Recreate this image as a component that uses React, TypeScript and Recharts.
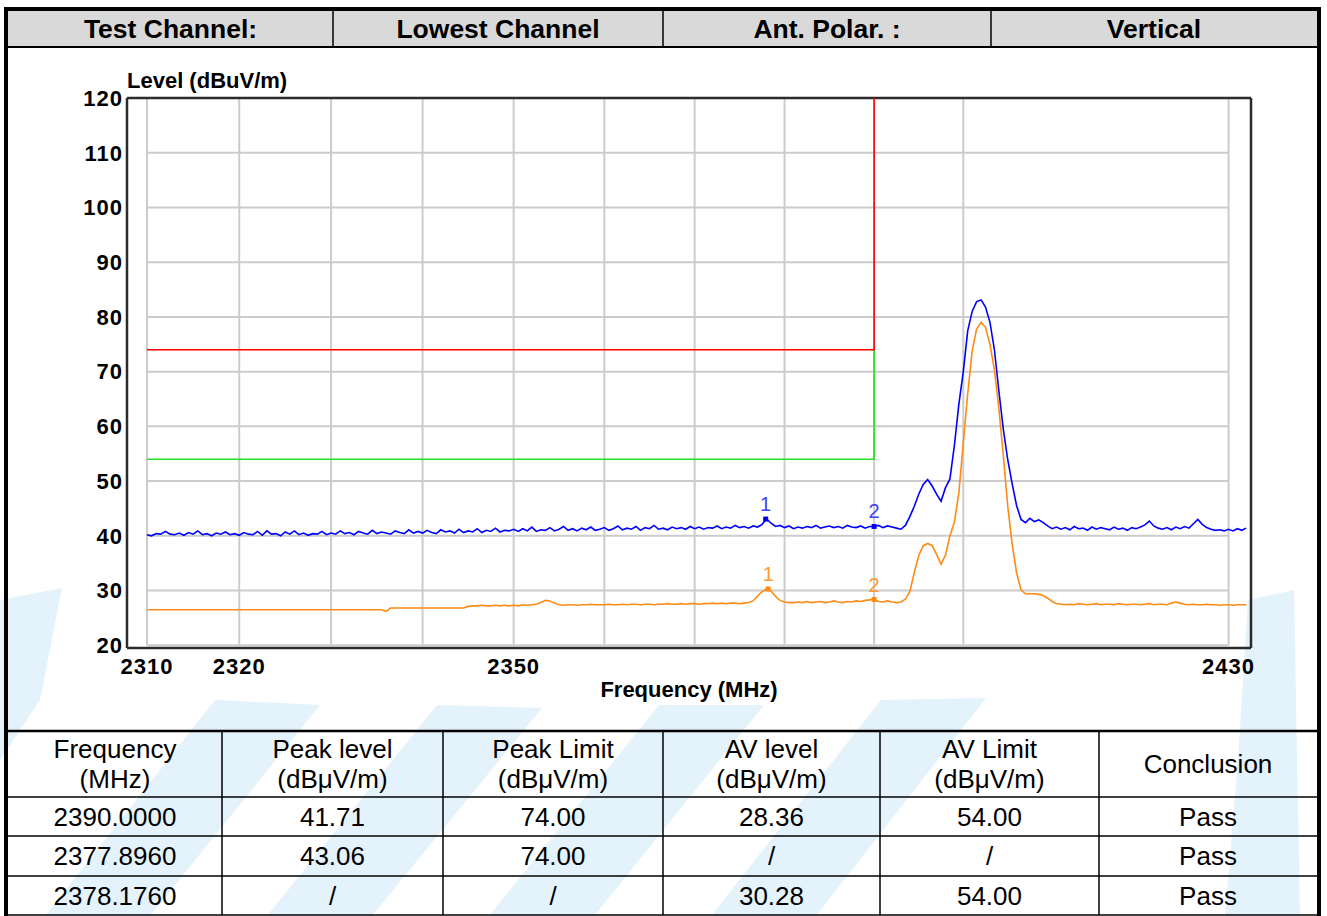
import React from 'react';
import { ComposedChart, Line, Scatter, XAxis, YAxis, ReferenceLine } from 'recharts';

// sweep grid of the receiver (MHz)
const SWEEP_START = 2310;
const SWEEP_STEP = 0.5;

// peak detector trace, dBuV/m, one value per sweep step (2310 .. 2432)
const peakTrace = [
  40.2, 40.0, 40.4, 40.3, 40.8, 40.3, 40.2, 40.5, 40.1, 40.6, 40.3, 40.9, 40.2, 40.4, 40.0, 40.5, 40.3, 40.7, 40.2, 40.4,
  40.1, 40.6, 40.3, 40.2, 40.8, 40.1, 40.9, 40.3, 40.4, 40.0, 40.7, 40.3, 40.9, 40.2, 40.5, 40.1, 40.4, 40.3, 40.8, 40.2,
  40.5, 40.3, 40.9, 40.4, 40.6, 40.2, 40.8, 40.5, 40.3, 41.0, 40.4, 40.7, 40.5, 40.3, 40.9, 40.6, 40.4, 41.1, 40.5, 40.8,
  40.5, 41.0, 40.6, 40.4, 41.1, 40.7, 40.9, 40.5, 41.2, 40.6, 40.9, 40.7, 41.3, 40.6, 41.0, 40.8, 41.4, 40.7, 41.0, 40.9,
  41.2, 40.8, 41.3, 40.9, 41.6, 40.8, 41.1, 41.0, 41.5, 40.9, 41.2, 41.7, 41.0, 41.3, 40.9, 41.4, 41.1, 41.6, 41.0, 41.2,
  41.5, 41.0, 41.3, 41.8, 41.1, 41.4, 41.2, 41.7, 41.0, 41.5, 41.3, 41.9, 41.2, 41.4, 41.1, 41.6, 41.3, 41.5, 41.2, 41.7,
  41.3, 41.6, 41.2, 41.5, 41.4, 41.8, 41.3, 41.6, 41.4, 41.9, 41.5, 41.7, 41.4, 41.8, 41.6, 42.1, 43.1, 42.3, 41.7, 41.9,
  41.5, 41.8, 41.3, 41.6, 41.4, 41.7, 41.5, 41.9, 41.4, 41.6, 41.8, 41.5, 41.7, 41.4, 41.9, 41.6, 41.5, 41.8, 41.4, 41.7,
  41.7, 41.9, 41.5, 41.8, 41.6, 41.4, 41.2, 41.9, 43.5, 45.4, 47.6, 49.4, 50.3, 49.1, 47.6, 46.3, 48.8, 50.4, 56.5, 64.0,
  70.0, 77.5, 81.0, 82.8, 83.1, 81.8, 79.0, 74.0, 66.5, 59.5, 53.9, 49.5, 45.5, 43.0, 42.4, 43.2, 42.6, 42.9, 42.4, 41.8,
  41.3, 41.6, 41.2, 41.5, 41.1, 41.7, 41.3, 41.4, 41.0, 41.6, 41.2, 41.5, 41.3, 41.1, 41.6, 41.2, 41.4, 41.0, 41.5, 41.3,
  41.6, 42.0, 42.7, 41.8, 41.4, 41.2, 41.5, 41.1, 41.6, 41.3, 41.7, 41.4, 42.2, 43.0, 42.1, 41.5, 41.2, 41.0, 41.1, 40.9,
  41.2, 40.9, 41.3, 41.0, 41.4,
];

// average detector trace, same grid
const avgTrace = [
  26.5, 26.5, 26.5, 26.5, 26.5, 26.5, 26.5, 26.5, 26.5, 26.5, 26.5, 26.5, 26.5, 26.5, 26.5, 26.5, 26.5, 26.5, 26.5, 26.5,
  26.5, 26.5, 26.5, 26.5, 26.5, 26.5, 26.5, 26.5, 26.5, 26.5, 26.5, 26.5, 26.5, 26.5, 26.5, 26.5, 26.5, 26.5, 26.5, 26.5,
  26.5, 26.5, 26.5, 26.5, 26.5, 26.5, 26.5, 26.5, 26.5, 26.5, 26.5, 26.5, 26.2, 26.8, 26.8, 26.8, 26.8, 26.8, 26.8, 26.8,
  26.8, 26.8, 26.8, 26.8, 26.8, 26.8, 26.8, 26.8, 26.8, 26.8, 27.1, 27.2, 27.2, 27.3, 27.2, 27.2, 27.3, 27.2, 27.3, 27.2,
  27.3, 27.2, 27.4, 27.3, 27.4, 27.5, 27.8, 28.2, 28.1, 27.7, 27.4, 27.3, 27.4, 27.4, 27.3, 27.4, 27.4, 27.5, 27.4, 27.4,
  27.4, 27.5, 27.4, 27.4, 27.5, 27.4, 27.5, 27.5, 27.4, 27.5, 27.5, 27.4, 27.5, 27.5, 27.6, 27.5, 27.5, 27.6, 27.5, 27.6,
  27.6, 27.5, 27.6, 27.6, 27.7, 27.6, 27.7, 27.6, 27.7, 27.7, 27.6, 27.7, 27.8, 28.1, 29.0, 29.8, 30.3, 29.9, 28.9, 28.2,
  27.9, 27.8, 27.8, 27.9, 27.8, 28.0, 27.8, 27.9, 28.0, 27.8, 27.9, 28.1, 27.9, 27.8, 28.0, 27.9, 28.1, 28.0, 28.2, 28.3,
  28.4, 28.0, 27.9, 28.1, 27.9, 27.8, 27.9, 28.4, 29.8, 33.3, 36.4, 38.2, 38.6, 38.2, 36.6, 34.8, 36.5, 40.0, 42.5, 47.8,
  57.0, 66.0, 73.8, 77.8, 79.0, 78.1, 75.0, 70.3, 63.3, 54.8, 45.4, 38.5, 33.2, 30.1, 29.4, 29.4, 29.4, 29.3, 29.1, 28.6,
  28.0, 27.6, 27.5, 27.4, 27.5, 27.4, 27.6, 27.5, 27.4, 27.5, 27.6, 27.4, 27.5, 27.5, 27.4, 27.6, 27.5, 27.4, 27.5, 27.5,
  27.4, 27.5, 27.6, 27.4, 27.5, 27.5, 27.4, 27.7, 27.9, 27.7, 27.5, 27.4, 27.5, 27.4, 27.4, 27.5, 27.4, 27.4, 27.3, 27.4,
  27.4, 27.3, 27.4, 27.4, 27.4,
];

// limits
const BAND_EDGE = 2390;
const PEAK_LIMIT = 74;
const AV_LIMIT = 54;

// marker readings (from the result table)
const peakMarkers = [
  { f: 2377.896, v: 43.06, n: '1' },
  { f: 2390.0, v: 41.71, n: '2' },
];
const avgMarkers = [
  { f: 2378.176, v: 30.28, n: '1' },
  { f: 2390.0, v: 28.36, n: '2' },
];

const xTicks = [2310, 2320, 2350, 2430];
const xGridLines = [2310, 2320, 2330, 2340, 2350, 2360, 2370, 2380, 2390, 2400, 2430];
const yTicks = [20, 30, 40, 50, 60, 70, 80, 90, 100, 110, 120];

const headerCells = ['Test Channel:', 'Lowest Channel', 'Ant. Polar. :', 'Vertical'];
const tableHead = [
  ['Frequency', '(MHz)'],
  ['Peak level', '(dBμV/m)'],
  ['Peak Limit', '(dBμV/m)'],
  ['AV level', '(dBμV/m)'],
  ['AV Limit', '(dBμV/m)'],
  ['Conclusion'],
];
const tableRows = [
  ['2390.0000', '41.71', '74.00', '28.36', '54.00', 'Pass'],
  ['2377.8960', '43.06', '74.00', '/', '/', 'Pass'],
  ['2378.1760', '/', '/', '30.28', '54.00', 'Pass'],
];

const X_MIN = 2307.84;
const X_MAX = 2432.55;
const Y_MIN = 19.5;
const Y_MAX = 120;

const FONT = '"Liberation Sans", Arial, sans-serif';

const toPoints = (vals: number[]) => vals.map((v, i) => ({ f: SWEEP_START + i * SWEEP_STEP, v }));
const peakData = toPoints(peakTrace);
const avgData = toPoints(avgTrace);
const peakLimitData = [
  { f: SWEEP_START, v: PEAK_LIMIT },
  { f: BAND_EDGE, v: PEAK_LIMIT },
  { f: BAND_EDGE, v: Y_MAX },
];
const avLimitData = [
  { f: SWEEP_START, v: AV_LIMIT },
  { f: BAND_EDGE, v: AV_LIMIT },
  { f: BAND_EDGE, v: PEAK_LIMIT },
];
const frameEdges = [
  [{ x: X_MIN, y: Y_MAX }, { x: X_MAX, y: Y_MAX }],
  [{ x: X_MIN, y: Y_MIN }, { x: X_MAX, y: Y_MIN }],
  [{ x: X_MIN, y: Y_MIN }, { x: X_MIN, y: Y_MAX }],
  [{ x: X_MAX, y: Y_MIN }, { x: X_MAX, y: Y_MAX }],
];

const markerShape = (dot: string, txt: string) => (props: any) => {
  const { cx, cy, payload } = props;
  return (
    <g>
      <rect x={cx - 2.5} y={cy - 2.5} width={5} height={5} fill={dot} />
      <text x={cx} y={cy - 8} textAnchor="middle" fontSize={20} fontFamily={FONT} fill={txt}>
        {payload.n}
      </text>
    </g>
  );
};

// light blue company watermark behind the sheet
const watermark = [
  '0,600 62,588 40,700 0,760',
  '215,700 320,705 150,916 45,916',
  '437,705 542,708 372,916 267,916',
  '659,705 764,705 594,916 489,916',
  '881,700 986,698 816,916 711,916',
  '1248,600 1294,590 1300,916 1225,916 1238,760',
];

const colX = [8, 222, 443, 663, 880, 1099, 1317];
const rowY = [731, 797, 836, 876, 915];
const headX = [8, 333, 663, 991, 1317];

export default function App() {
  return (
    <div style={{ position: 'absolute', left: 0, top: 0, width: 1327, height: 916, background: '#fff', overflow: 'hidden' }}>
      <svg width={1327} height={916} style={{ position: 'absolute', left: 0, top: 0 }}>
        {watermark.map((p, i) => (
          <polygon key={i} points={p} fill="#e4f2fc" />
        ))}
        {/* header band */}
        <rect x={8} y={10} width={1309} height={37} fill="#d9d9d9" />
        {headX.slice(1, -1).map((x) => (
          <line key={x} x1={x} y1={10} x2={x} y2={47} stroke="#000" strokeWidth={1.5} />
        ))}
        <line x1={8} y1={47} x2={1317} y2={47} stroke="#000" strokeWidth={2} />
        {headerCells.map((t, i) => (
          <text key={t} x={(headX[i] + headX[i + 1]) / 2} y={38} textAnchor="middle" fontFamily={FONT} fontWeight="bold" fontSize={26.5} fill="#000">
            {t}
          </text>
        ))}
        {/* result table */}
        {rowY.map((y, i) => (
          <line key={'r' + y} x1={8} y1={y} x2={1317} y2={y} stroke="#000" strokeWidth={i === 0 ? 2.5 : 1.5} />
        ))}
        {colX.slice(1, -1).map((x) => (
          <line key={'c' + x} x1={x} y1={rowY[0]} x2={x} y2={rowY[4]} stroke="#000" strokeWidth={1.5} />
        ))}
        {tableHead.map((lines, i) => {
          const cx = (colX[i] + colX[i + 1]) / 2;
          return lines.length === 2 ? (
            <text key={'h' + i} textAnchor="middle" fontFamily={FONT} fontSize={26} fill="#000">
              <tspan x={cx} y={758}>{lines[0]}</tspan>
              <tspan x={cx} y={788}>{lines[1]}</tspan>
            </text>
          ) : (
            <text key={'h' + i} x={cx} y={773} textAnchor="middle" fontFamily={FONT} fontSize={26} fill="#000">
              {lines[0]}
            </text>
          );
        })}
        {tableRows.map((row, r) =>
          row.map((t, c) => (
            <text
              key={r + '-' + c}
              x={(colX[c] + colX[c + 1]) / 2}
              y={(rowY[r + 1] + rowY[r + 2]) / 2 + 9}
              textAnchor="middle"
              fontFamily={FONT}
              fontSize={26}
              fill="#000"
            >
              {t}
            </text>
          ))
        )}
        {/* outer frame */}
        <rect x={6} y={9} width={1313} height={912} fill="none" stroke="#000" strokeWidth={4} />
      </svg>

      <div style={{ position: 'absolute', left: 0, top: 0 }}>
        <ComposedChart width={1327} height={730} margin={{ top: 98, right: 76, bottom: 52, left: 67 }}>
          <XAxis
            dataKey="f"
            type="number"
            scale="log"
            domain={[X_MIN, X_MAX]}
            allowDataOverflow
            ticks={xTicks}
            interval={0}
            height={30}
            tickLine={false}
            axisLine={false}
            tickSize={0}
            tickMargin={10}
            tick={{ fill: '#000', fontSize: 22, fontWeight: 'bold', fontFamily: FONT, letterSpacing: 1 }}
          />
          <YAxis
            type="number"
            domain={[Y_MIN, Y_MAX]}
            allowDataOverflow
            ticks={yTicks}
            interval={0}
            width={60}
            tickLine={false}
            axisLine={false}
            tickSize={0}
            tickMargin={4}
            tick={{ fill: '#000', fontSize: 22, fontWeight: 'bold', fontFamily: FONT, letterSpacing: 1 }}
          />
          {xGridLines.map((f) => (
            <ReferenceLine key={'gx' + f} segment={[{ x: f, y: 20 }, { x: f, y: 120 }]} stroke="#cccccc" strokeWidth={2} />
          ))}
          {yTicks.map((v) => (
            <ReferenceLine key={'gy' + v} segment={[{ x: 2310, y: v }, { x: 2430, y: v }]} stroke="#cccccc" strokeWidth={2} />
          ))}
          {frameEdges.map((seg, i) => (
            <ReferenceLine key={'fr' + i} segment={seg} stroke="#2b2b2b" strokeWidth={2.5} />
          ))}
          <Line data={avLimitData} dataKey="v" type="linear" stroke="#22e022" strokeWidth={1.6} dot={false} activeDot={false} isAnimationActive={false} />
          <Line data={peakLimitData} dataKey="v" type="linear" stroke="#ff0000" strokeWidth={1.6} dot={false} activeDot={false} isAnimationActive={false} />
          <Line data={avgData} dataKey="v" type="linear" stroke="#ff8a14" strokeWidth={1.6} dot={false} activeDot={false} isAnimationActive={false} />
          <Line data={peakData} dataKey="v" type="linear" stroke="#0000ff" strokeWidth={1.6} dot={false} activeDot={false} isAnimationActive={false} />
          <Scatter data={peakMarkers} dataKey="v" shape={markerShape('#0000ee', '#4040ff')} isAnimationActive={false} />
          <Scatter data={avgMarkers} dataKey="v" shape={markerShape('#ff8a14', '#ff9a30')} isAnimationActive={false} />
        </ComposedChart>
      </div>

      <div style={{ position: 'absolute', left: 127, top: 70, fontFamily: FONT, fontWeight: 'bold', fontSize: 22, lineHeight: '22px', color: '#000' }}>
        Level (dBuV/m)
      </div>
      <div style={{ position: 'absolute', left: 127, width: 1124, top: 679, textAlign: 'center', fontFamily: FONT, fontWeight: 'bold', fontSize: 22, lineHeight: '22px', color: '#000' }}>
        Frequency (MHz)
      </div>
    </div>
  );
}
